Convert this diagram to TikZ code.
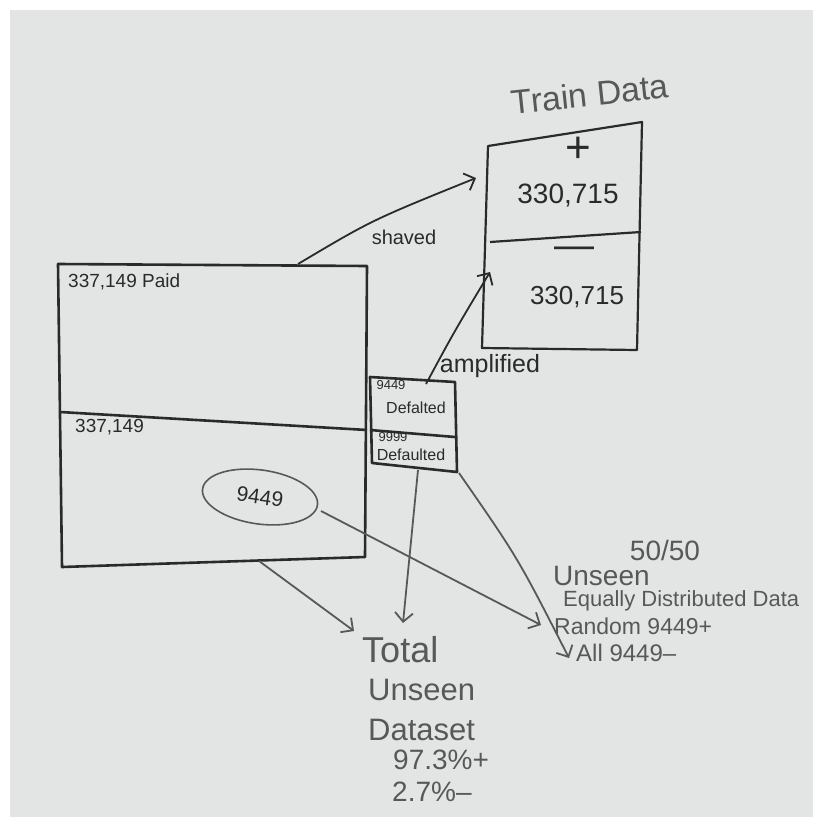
\documentclass[tikz,border=0pt]{standalone}
\usepackage{fontspec}
\setmainfont{Liberation Sans}
\usetikzlibrary{positioning,shapes.geometric,arrows.meta}
\definecolor{board}{RGB}{227,229,228}
\definecolor{ink}{RGB}{42,42,42}
\definecolor{softink}{RGB}{88,88,88}
\newcommand{\fs}[1]{\fontsize{#1}{#1}\selectfont}

\begin{document}
\begin{tikzpicture}[
    x=1pt, y=-1pt,
    box/.style={%
      draw=ink,
      line width=2.6pt,
      line join=round,
    },
    arrow/.style={%
      draw=softink,
      line width=1.8pt,
      -{Straight Barb[length=9pt,width=18pt]},
    },
    label/.style={%
      inner sep=0pt,
      text=ink,
    },
    faint/.style={%
      inner sep=0pt,
      text=softink,
    },
  ]

    \useasboundingbox (0,0) rectangle (823,827);
    \fill [white] (0,0) rectangle (823,827);
    \fill [board] (10,10) rectangle (813,817);

    \coordinate (mTL) at (58,264);
    \coordinate (mTR) at (367,266);
    \coordinate (mBR) at (365,557);
    \coordinate (mBL) at (62,567);
    \coordinate (mML) at (60,412);
    \coordinate (mMR) at (367,430);

    \coordinate (dTL) at (370,377);
    \coordinate (dTR) at (455,382);
    \coordinate (dML) at (370,430);
    \coordinate (dMR) at (455,437);
    \coordinate (dBL) at (372,463);
    \coordinate (dBR) at (457,472);

    \coordinate (tTL) at (488,146);
    \coordinate (tTR) at (642,122);
    \coordinate (tML) at (490,242);
    \coordinate (tMR) at (641,232);
    \coordinate (tBL) at (482,348);
    \coordinate (tBR) at (637,350);

    \draw [box] (mTL) -- (mTR) -- (mBR) -- (mBL) -- cycle;
    \draw [box] (mML) -- (mMR);
    \draw [box] (dTL) -- (dTR) -- (dBR) -- (dBL) -- cycle;
    \draw [box] (dML) -- (dMR);
    \draw [box, line width=2.2pt] (tTL) -- (tTR) -- (tBR) -- (tBL) -- cycle;
    \draw [box, line width=2.2pt] (tML) -- (tMR);

    \node [label, anchor=west] (paid) at (68,282) {\fs{19}337,149 Paid};
    \node [label, anchor=west] (total) at (75,427) {\fs{19}337,149};

    \node [label] (defN) at (391,385) {\fs{13}9449};
    \node [label] (def) at (416,408) {\fs{16}Defalted};
    \node [label] (dfltN) at (393,437) {\fs{13}9999};
    \node [label] (dflt) at (411,455) {\fs{16}Defaulted};

    \node [label, draw=softink, line width=1.6pt, ellipse, rotate=-8,
      minimum width=116pt, minimum height=54pt] (ell) at (260,497) {\fs{21}9449};

    \node [faint, rotate=6] (train) at (590,94) {\fs{34}Train Data};
    \node [label] (plus) at (578,150) {\fs{44}+};
    \node [label] (posN) at (568,196) {\fs{28}330,715};
    \node [label] (minus) at (574,253) {\fs{40}---};
    \node [label] (negN) at (577,297) {\fs{26}330,715};

    \node [label] (shaved) at (404,237) {\fs{20}shaved};
    \node [label] (ampl) at (490,366) {\fs{25}amplified};

    \node [faint, anchor=west] (tot) at (362,650) {\fs{36}Total};
    \node [faint, anchor=west] (uns) at (368,690) {\fs{31}Unseen};
    \node [faint, anchor=west] (dset) at (368,730) {\fs{31}Dataset};
    \node [faint, anchor=west] (pctP) at (393,760) {\fs{28}97.3\%+};
    \node [faint, anchor=west] (pctN) at (392,792) {\fs{28}2.7\%--};

    \node [faint] (ratio) at (665,550) {\fs{28}50/50};
    \node [faint, anchor=west] (uns2) at (553,576) {\fs{28}Unseen};
    \node [faint, anchor=west] (eq) at (563,601) {\fs{22}Equally Distributed Data};
    \node [faint, anchor=west] (rnd) at (554,626) {\fs{23}Random 9449+};
    \node [faint, anchor=west] (all) at (576,653) {\fs{24}All 9449--};

    \coordinate (shaveA) at (298,264);
    \coordinate (shaveB) at (476,178);
    \coordinate (amplA) at (426,384);
    \coordinate (amplB) at (490,272);
    \coordinate (downA) at (418,470);
    \coordinate (downB) at (403,623);
    \coordinate (sideA) at (459,473);
    \coordinate (sideB) at (569,658);
    \coordinate (ellA) at (321,511);
    \coordinate (ellB) at (541,625);
    \coordinate (mainA) at (259,561);
    \coordinate (mainB) at (354,631);

    \draw [arrow, draw=ink] (shaveA) .. controls (372,220) .. (shaveB);
    \draw [arrow, draw=ink] (amplA) .. controls (454,332) .. (amplB);
    \draw [arrow] (downA) -- (downB);
    \draw [arrow] (sideA) .. controls (518,558) .. (sideB);
    \draw [arrow] (ellA) -- (ellB);
    \draw [arrow] (mainA) -- (mainB);
\end{tikzpicture}
\end{document}
